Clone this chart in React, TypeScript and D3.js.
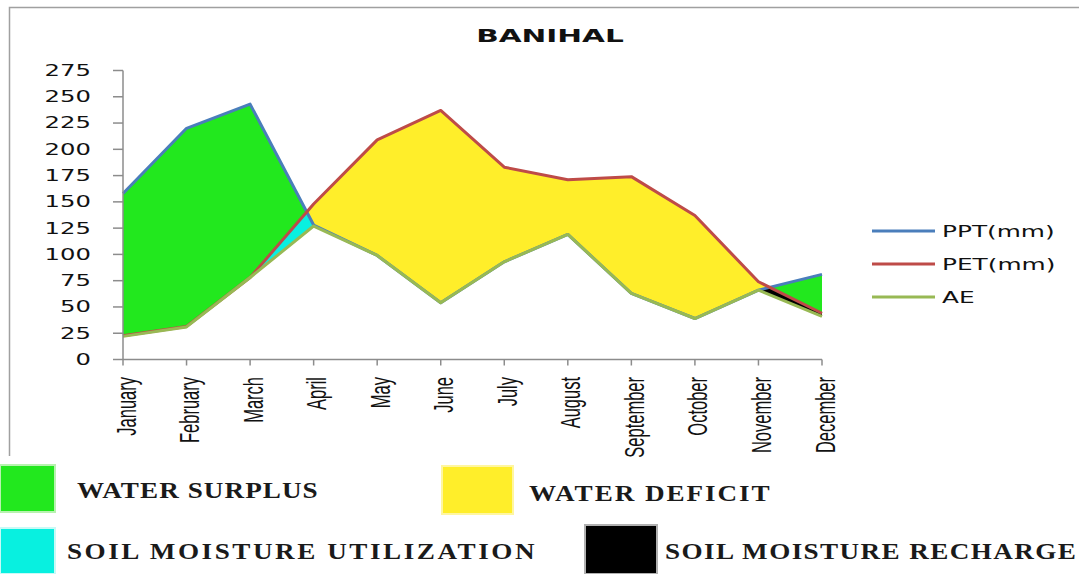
import React, { useEffect, useRef } from 'react';
import * as d3 from 'd3';

// monthly water balance, Banihal (mm)
const months = ['January', 'February', 'March', 'April', 'May', 'June', 'July', 'August', 'September', 'October', 'November', 'December'];
const ppt = [158, 220, 243, 128, 99, 54, 93, 119, 63, 39, 66, 81];
const pet = [22.5, 31.5, 78, 148, 209, 237, 183, 171, 174, 137, 74, 44];
const ae = [22, 31, 78, 127, 99, 54, 93, 119, 63, 39, 66, 41];
const yTicks = [0, 25, 50, 75, 100, 125, 150, 175, 200, 225, 250, 275];
const seriesNames = ['PPT(mm)', 'PET(mm)', 'AE'];
const zoneNames = ['WATER SURPLUS', 'WATER DEFICIT', 'SOIL MOISTURE UTILIZATION', 'SOIL MOISTURE RECHARGE'];

const W = 1079;
const H = 574;
const lineColors = ['#4a7ebb', '#be4b48', '#98b954'];
const zoneColors = ['#22e81e', '#ffee2a', '#08f0e0', '#000000'];

const App = () => {
    const ref = useRef<SVGSVGElement>(null);

    useEffect(() => {
        if (!ref.current) return;
        const svg = d3.select(ref.current);
        svg.selectAll('*').remove();

        const plot = { left: 123, right: 822, top: 70.5, bottom: 359.5 };
        const x = d3.scalePoint<string>().domain(months).range([plot.left, plot.right]);
        const y = d3.scaleLinear().domain([0, 275]).range([plot.bottom, plot.top]);
        const idx = d3.range(months.length);
        const px = (i: number) => x(months[i]) as number;

        svg.append('rect').attr('width', W).attr('height', H).attr('fill', '#fff');

        // frame
        svg.append('path')
            .attr('d', `M9.5,456V7.5H${W}`)
            .attr('fill', 'none')
            .attr('stroke', '#a0a0a0')
            .attr('stroke-width', 1.5);

        svg.append('text')
            .attr('transform', 'translate(550,42) scale(1.6,1)')
            .attr('text-anchor', 'middle')
            .attr('font-family', 'DejaVu Sans')
            .attr('font-weight', 'bold')
            .attr('font-size', 18.5)
            .attr('fill', '#111')
            .text('BANIHAL');

        const defs = svg.append('defs');
        // region above / below the PPT line
        defs.append('clipPath').attr('id', 'abovePPT')
            .append('path')
            .attr('d', d3.area<number>().x(px).y0(i => y(ppt[i])).y1(0)(idx));
        defs.append('clipPath').attr('id', 'belowPPT')
            .append('path')
            .attr('d', d3.area<number>().x(px).y0(i => y(ppt[i])).y1(H)(idx));

        // surplus: between PPT and AE
        svg.append('path')
            .attr('d', d3.area<number>().x(px).y0(i => y(ae[i])).y1(i => y(ppt[i]))(idx))
            .attr('fill', zoneColors[0]);

        // deficit: between PET and AE, where PET is above PPT
        svg.append('path')
            .attr('clip-path', 'url(#abovePPT)')
            .attr('d', d3.area<number>().x(px).y0(i => y(ae[i])).y1(i => y(pet[i]))(idx))
            .attr('fill', zoneColors[1]);

        const below = svg.append('g').attr('clip-path', 'url(#belowPPT)');
        // utilization in spring, recharge in late autumn
        below.append('path')
            .attr('d', d3.area<number>().defined(i => i >= 2 && i <= 3).x(px).y0(i => y(ae[i])).y1(i => y(pet[i]))(idx))
            .attr('fill', zoneColors[2]);
        below.append('path')
            .attr('d', d3.area<number>().defined(i => i >= 10).x(px).y0(i => y(ae[i])).y1(i => y(pet[i]))(idx))
            .attr('fill', zoneColors[3]);

        [ppt, pet, ae].forEach((s, k) => {
            svg.append('path')
                .attr('d', d3.line<number>().x(px).y(i => y(s[i]))(idx))
                .attr('fill', 'none')
                .attr('stroke', lineColors[k])
                .attr('stroke-width', 3)
                .attr('stroke-linejoin', 'round');
        });

        // axes
        const axisColor = '#8c8c8c';
        svg.append('line')
            .attr('x1', plot.left).attr('x2', plot.left)
            .attr('y1', plot.top).attr('y2', plot.bottom)
            .attr('stroke', axisColor).attr('stroke-width', 1.5);
        svg.append('line')
            .attr('x1', plot.left).attr('x2', plot.right)
            .attr('y1', plot.bottom).attr('y2', plot.bottom)
            .attr('stroke', axisColor).attr('stroke-width', 1.5);

        const yt = svg.append('g').selectAll('g').data(yTicks).join('g');
        yt.append('line')
            .attr('x1', plot.left - 10).attr('x2', plot.left)
            .attr('y1', d => y(d)).attr('y2', d => y(d))
            .attr('stroke', axisColor).attr('stroke-width', 1.5);
        yt.append('text')
            .attr('transform', d => `translate(91,${y(d)}) scale(1.62,1)`)
            .attr('dy', '0.36em')
            .attr('text-anchor', 'end')
            .attr('font-family', 'DejaVu Sans')
            .attr('font-size', 15)
            .attr('fill', '#111')
            .text(d => d);

        const xt = svg.append('g').selectAll('g').data(months).join('g');
        xt.append('line')
            .attr('x1', d => x(d) as number).attr('x2', d => x(d) as number)
            .attr('y1', plot.bottom).attr('y2', plot.bottom + 6)
            .attr('stroke', axisColor).attr('stroke-width', 1.5);
        xt.append('text')
            .attr('transform', d => `translate(${(x(d) as number) + 12.5},377) rotate(-90) scale(1,1.7)`)
            .attr('text-anchor', 'end')
            .attr('font-family', 'Liberation Sans')
            .attr('font-size', 16.5)
            .attr('fill', '#111')
            .text(d => d);

        // series legend
        const lg = svg.append('g').selectAll('g').data(seriesNames).join('g')
            .attr('transform', (d, i) => `translate(872,${231 + i * 33})`);
        lg.append('line')
            .attr('x2', 63)
            .attr('stroke', (d, i) => lineColors[i])
            .attr('stroke-width', 3);
        lg.append('text')
            .attr('transform', 'translate(70,0) scale(1.6,1)')
            .attr('dy', '0.36em')
            .attr('font-family', 'DejaVu Sans')
            .attr('font-size', 15.5)
            .attr('fill', '#111')
            .text(d => d);

        // zone legend sits on a pasted white strip
        svg.append('rect').attr('y', 457).attr('width', W).attr('height', H - 457).attr('fill', '#fff');
        const boxes = [
            { x: 0, y: 465, w: 55, h: 47, tx: 77, ty: 498, edge: '#b8f2b0' },
            { x: 442, y: 466, w: 71, h: 48, tx: 529, ty: 501, edge: '#fff6a0' },
            { x: 0, y: 528, w: 55, h: 46, tx: 67, ty: 559, edge: '#c8faf6' },
            { x: 585, y: 525, w: 72, h: 49, tx: 665, ty: 559, edge: '#b0b0b0' }
        ];
        const zl = svg.append('g').selectAll('g').data(zoneNames).join('g');
        zl.append('rect')
            .attr('x', (d, i) => boxes[i].x)
            .attr('y', (d, i) => boxes[i].y)
            .attr('width', (d, i) => boxes[i].w)
            .attr('height', (d, i) => boxes[i].h)
            .attr('fill', (d, i) => zoneColors[i])
            .attr('stroke', (d, i) => boxes[i].edge)
            .attr('stroke-width', 2);
        // courier-like spacing: every glyph gets the same advance
        const zs = 1.18;
        zl.append('text')
            .attr('transform', (d, i) => `translate(${boxes[i].tx},${boxes[i].ty}) scale(${zs},1)`)
            .attr('textLength', d => (d.length * 18.9 - 5) / zs)
            .attr('lengthAdjust', 'spacing')
            .attr('font-family', 'Liberation Serif')
            .attr('font-weight', 'bold')
            .attr('font-size', 23)
            .attr('fill', '#1a1a1a')
            .text(d => d);
    }, []);

    return (
        <svg
            ref={ref}
            width={W}
            height={H}
            style={{ position: 'absolute', left: 0, top: 0, display: 'block' }}
        />
    );
};

export default App;
